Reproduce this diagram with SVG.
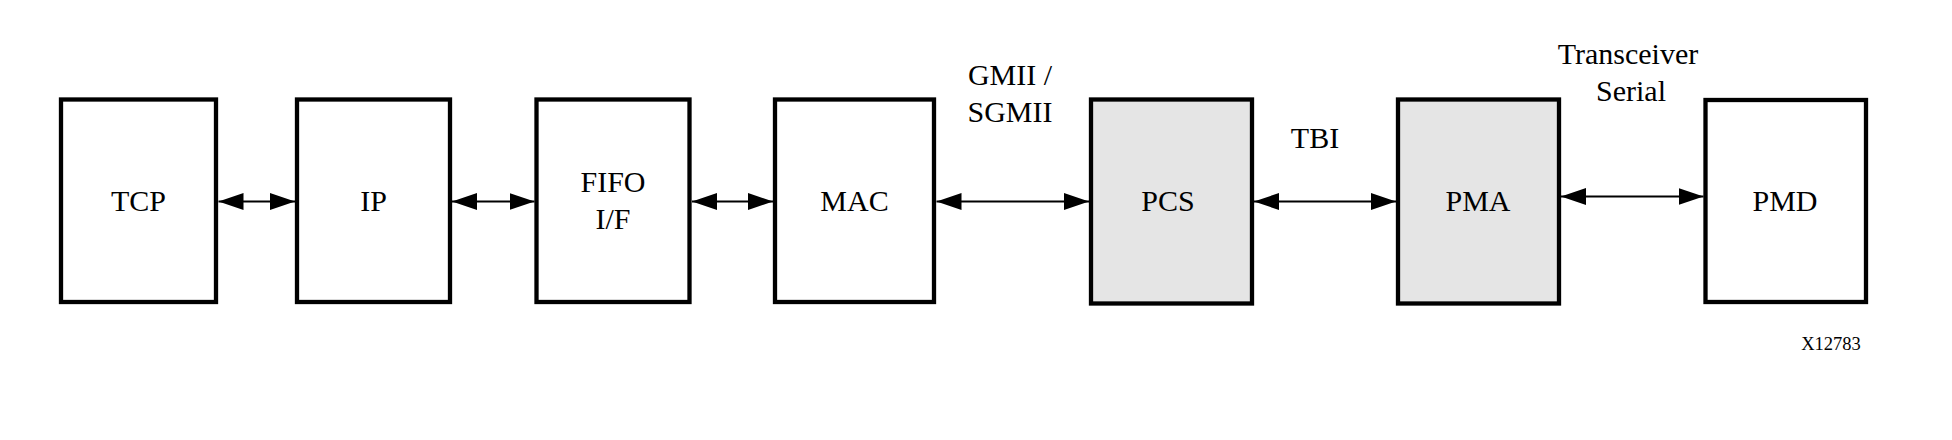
<svg xmlns="http://www.w3.org/2000/svg" width="1952" height="440" viewBox="0 0 1952 440">
<style>
.box{fill:#ffffff;stroke:#000000;stroke-width:4.3}
.shaded{fill:#e5e5e5}
.lbl{font-family:"Liberation Serif","Times New Roman",serif;font-size:30px;fill:#000000;text-anchor:middle}
.small{font-family:"Liberation Serif","Times New Roman",serif;font-size:18.5px;fill:#000000;text-anchor:middle}
.conn{stroke:#000000;stroke-width:1.8;fill:none;marker-start:url(#ah);marker-end:url(#ah)}
</style>
<defs>
<marker id="ah" markerUnits="userSpaceOnUse" markerWidth="26" markerHeight="18" refX="25" refY="8.5" orient="auto-start-reverse" viewBox="0 0 26 18">
<path d="M0,0 L25,8.5 L0,17 Z" fill="#000000"/>
</marker>
</defs>
<rect width="1952" height="440" fill="#ffffff"/>
<g id="connectors">
<line class="conn" x1="218.5" y1="201.5" x2="295" y2="201.5"/>
<line class="conn" x1="452" y1="201.5" x2="534.5" y2="201.5"/>
<line class="conn" x1="692" y1="201.5" x2="773" y2="201.5"/>
<line class="conn" x1="936.5" y1="201.5" x2="1089" y2="201.5"/>
<line class="conn" x1="1254" y1="201.5" x2="1396" y2="201.5"/>
<line class="conn" x1="1561" y1="196.5" x2="1703.5" y2="196.5"/>
</g>
<g id="tcp">
<rect class="box" x="61" y="99.5" width="155" height="202.5"/>
<text class="lbl" x="138.5" y="211">TCP</text>
</g>
<g id="ip">
<rect class="box" x="297" y="99.5" width="153" height="202.5"/>
<text class="lbl" x="373.5" y="211">IP</text>
</g>
<g id="fifo">
<rect class="box" x="536.5" y="99.5" width="153" height="202.5"/>
<text class="lbl" x="613" y="192">FIFO</text>
<text class="lbl" x="613" y="229">I/F</text>
</g>
<g id="mac">
<rect class="box" x="775" y="99.5" width="159" height="202.5"/>
<text class="lbl" x="854.5" y="211">MAC</text>
</g>
<g id="pcs">
<rect class="box shaded" x="1091" y="99.5" width="161" height="204"/>
<text class="lbl" x="1168" y="211">PCS</text>
</g>
<g id="pma">
<rect class="box shaded" x="1398" y="99.5" width="161" height="204"/>
<text class="lbl" x="1478" y="211">PMA</text>
</g>
<g id="pmd">
<rect class="box" x="1705.5" y="100" width="160.5" height="202"/>
<text class="lbl" x="1785" y="211">PMD</text>
</g>
<g id="labels">
<text class="lbl" x="1010" y="85">GMII /</text>
<text class="lbl" x="1010" y="122">SGMII</text>
<text class="lbl" x="1315" y="148">TBI</text>
<text class="lbl" x="1628" y="64">Transceiver</text>
<text class="lbl" x="1631" y="101">Serial</text>
<text class="small" x="1831" y="350">X12783</text>
</g>
</svg>
